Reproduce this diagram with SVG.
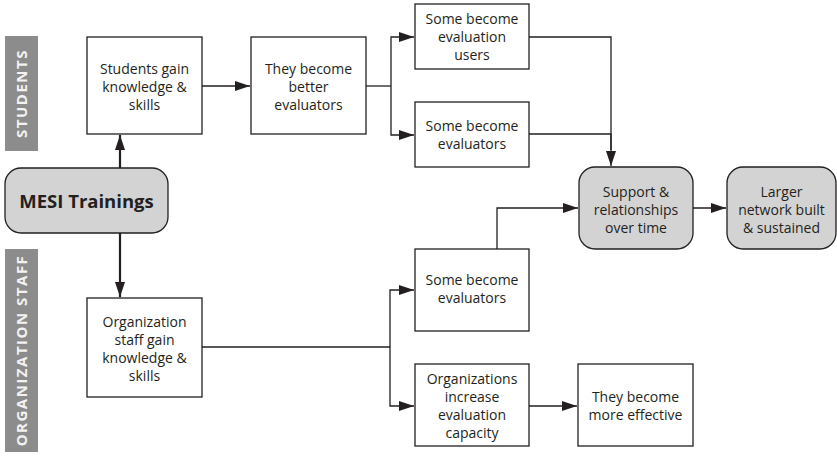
<svg xmlns="http://www.w3.org/2000/svg" width="837" height="464" viewBox="0 0 837 464">
<defs>
<marker id="ah" viewBox="0 0 15 10" refX="15" refY="5" markerWidth="15" markerHeight="10" markerUnits="userSpaceOnUse" orient="auto">
<path d="M0,0 L15,5 L0,10 Z" fill="#231f20"/>
</marker>
<style>
.box{fill:#fff;stroke:#231f20;stroke-width:1.3}
.gbox{fill:#d3d3d3;stroke:#231f20;stroke-width:1.3}
.t{font-family:"Open Sans","DejaVu Sans",sans-serif;font-size:14px;fill:#231f20;text-anchor:middle}
.band{fill:#8c8c8c}
.bt{font-family:"Open Sans","DejaVu Sans",sans-serif;font-size:15px;font-weight:bold;fill:#f2f2f2;text-anchor:middle;letter-spacing:1.5px}
.c{fill:none;stroke:#231f20;stroke-width:1.3}
.ca{fill:none;stroke:#231f20;stroke-width:1.3;marker-end:url(#ah)}
.cb{fill:none;stroke:#231f20;stroke-width:2.2;marker-end:url(#ah)}
</style>
</defs>
<g id="band-students"><rect class="band" x="5" y="36" width="33" height="115"/><text class="bt" transform="translate(27,93.5) rotate(-90)">STUDENTS</text></g>
<g id="band-staff"><rect class="band" x="5" y="249" width="33" height="203"/><text class="bt" transform="translate(27,350.5) rotate(-90)">ORGANIZATION STAFF</text></g>
<g id="connectors">
<path class="cb" d="M120,168 V135"/>
<path class="cb" d="M120,233 V297"/>
<path class="ca" d="M202,86 H250"/>
<path class="c" d="M366,86 H391"/>
<path class="ca" d="M391,86 V37 H414"/>
<path class="ca" d="M391,86 V135 H414"/>
<path class="c" d="M529,37 H611 V150"/>
<path class="ca" d="M529,134 H611 V166"/>
<path class="ca" d="M693,208 H726"/>
<path class="ca" d="M497,249 V208 H578"/>
<path class="c" d="M202,347 H390"/>
<path class="ca" d="M390,347 V290 H414"/>
<path class="ca" d="M390,347 V406 H414"/>
<path class="ca" d="M529,406 H577"/>
</g>
<g id="mesi"><rect class="gbox" x="5" y="168" width="163" height="65" rx="16"/><text x="86.5" y="208" style="font-family:'Open Sans','DejaVu Sans',sans-serif;font-size:18.5px;font-weight:bold;fill:#231f20;text-anchor:middle">MESI Trainings</text></g>
<g id="students"><rect class="box" x="87" y="37" width="115" height="97"/><text class="t" x="144.5" y="74">Students gain</text><text class="t" x="144.5" y="92">knowledge &amp;</text><text class="t" x="144.5" y="110">skills</text></g>
<g id="better"><rect class="box" x="251" y="37" width="115" height="97"/><text class="t" x="308.5" y="74">They become</text><text class="t" x="308.5" y="92">better</text><text class="t" x="308.5" y="110">evaluators</text></g>
<g id="users"><rect class="box" x="415" y="4" width="114" height="65"/><text class="t" x="472" y="24">Some become</text><text class="t" x="472" y="42">evaluation</text><text class="t" x="472" y="60">users</text></g>
<g id="s-evaluators"><rect class="box" x="415" y="102" width="114" height="65"/><text class="t" x="472" y="131">Some become</text><text class="t" x="472" y="149">evaluators</text></g>
<g id="support"><rect class="gbox" x="579" y="167" width="114" height="82" rx="16"/><text class="t" x="636" y="197">Support &amp;</text><text class="t" x="636" y="215">relationships</text><text class="t" x="636" y="233">over time</text></g>
<g id="larger"><rect class="gbox" x="727" y="167" width="109" height="82" rx="16"/><text class="t" x="781.5" y="197">Larger</text><text class="t" x="781.5" y="215">network built</text><text class="t" x="781.5" y="233">&amp; sustained</text></g>
<g id="staff"><rect class="box" x="87" y="298" width="115" height="99"/><text class="t" x="144.5" y="327">Organization</text><text class="t" x="144.5" y="345">staff gain</text><text class="t" x="144.5" y="363">knowledge &amp;</text><text class="t" x="144.5" y="381">skills</text></g>
<g id="o-evaluators"><rect class="box" x="415" y="249" width="114" height="82"/><text class="t" x="472" y="285">Some become</text><text class="t" x="472" y="303">evaluators</text></g>
<g id="orgs"><rect class="box" x="415" y="364" width="114" height="82"/><text class="t" x="472" y="384">Organizations</text><text class="t" x="472" y="402">increase</text><text class="t" x="472" y="420">evaluation</text><text class="t" x="472" y="438">capacity</text></g>
<g id="effective"><rect class="box" x="578" y="364" width="115" height="82"/><text class="t" x="635.5" y="402">They become</text><text class="t" x="635.5" y="420">more effective</text></g>
</svg>
